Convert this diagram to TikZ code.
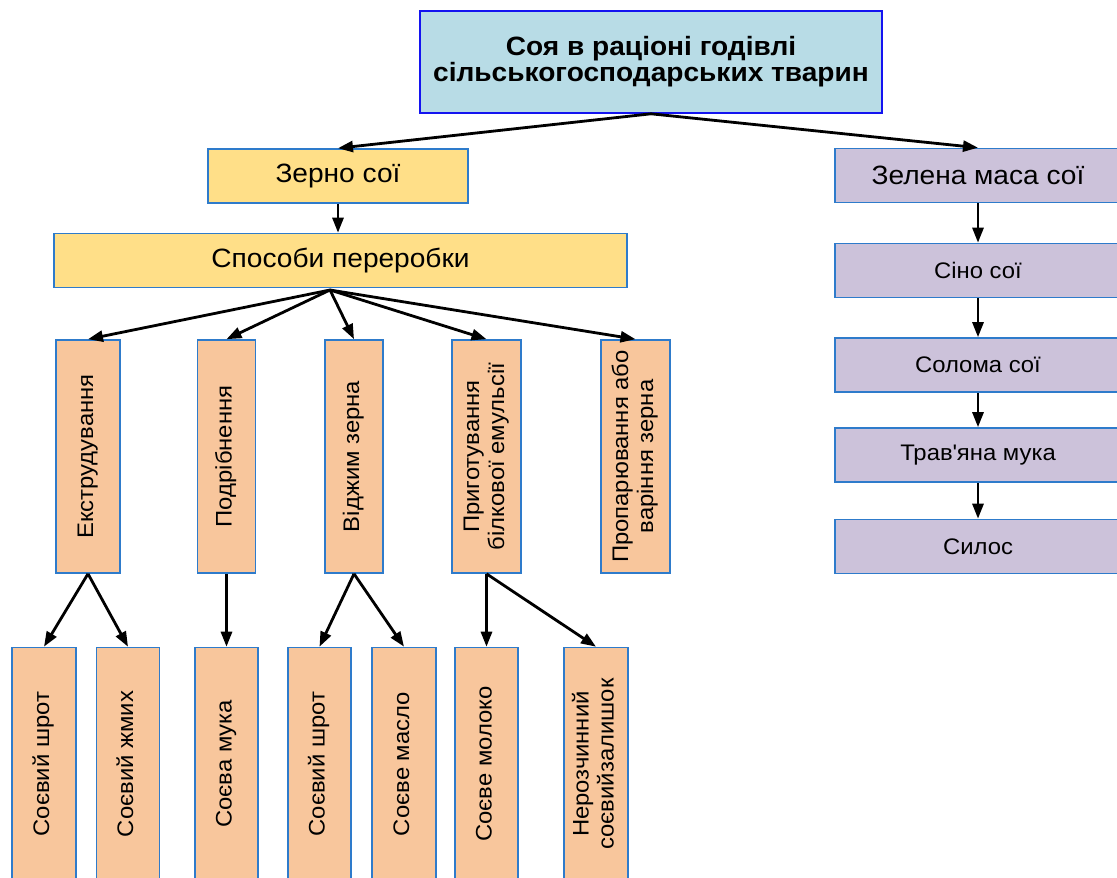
\documentclass[tikz,border=0pt]{standalone}
\usepackage{fontspec}
\setmainfont{Liberation Sans}[FakeStretch=1.06]
\usepackage{xcolor}
\usepackage{graphicx}
\usepackage{tikz}
\usetikzlibrary{arrows.meta}

\definecolor{titlefill}{HTML}{B8DCE6}
\definecolor{titleline}{HTML}{1414F0}
\definecolor{boxline}{HTML}{2E7BCB}
\definecolor{grainfill}{HTML}{FFDF88}
\definecolor{procfill}{HTML}{F8C69C}
\definecolor{massfill}{HTML}{CCC2DA}

\newcommand{\vtext}[1]{\rotatebox{90}{\begin{tabular}{@{}c@{}}#1\end{tabular}}}

\begin{document}
\begin{tikzpicture}[
    x=1pt,y=-1pt,
    >={Triangle[length=15pt,width=11pt]},
    box/.style={
        draw=boxline,
        line width=1.6pt,
        inner sep=0pt,
        align=center
    },
    topbox/.style={box, draw=titleline, fill=titlefill,
        minimum width=462pt, minimum height=102pt,
        font=\fontsize{26.5}{26}\selectfont\bfseries},
    grainbox/.style={box, fill=grainfill, minimum height=54pt,
        font=\fontsize{26.5}{30}\selectfont},
    massbox/.style={box, fill=massfill, minimum width=286pt, minimum height=54pt,
        font=\fontsize{22.5}{25}\selectfont},
    procbox/.style={box, fill=procfill, minimum height=233pt,
        font=\fontsize{22.5}{25}\selectfont},
    arr/.style={->, line width=2.8pt}
]
\useasboundingbox (0,0) rectangle (1117,878);
\clip (0,0) rectangle (1117,878);

\node[topbox] (title) at (651,62) {Соя в раціоні годівлі\\сільськогосподарських тварин};

\node[grainbox, minimum width=260pt] (grain)   at (338,176)   {Зерно сої};
\node[grainbox, minimum width=573pt] (methods) at (340.5,260.5) {Способи переробки};

\node[massbox, font=\fontsize{26.5}{30}\selectfont] (greenmass) at (978,175.5) {Зелена маса сої};
\node[massbox] (hay)       at (978,270.5) {Сіно сої};
\node[massbox] (straw)     at (978,365)   {Солома сої};
\node[massbox] (grassmeal) at (978,455)   {Трав\textquotesingle{}яна мука};
\node[massbox] (silage)    at (978,546.5) {Силос};

\node[procbox, minimum width=64pt] (extrud) at (88,456.5)    {\vtext{Екструдування}};
\node[procbox, minimum width=58pt] (grind)  at (226.5,456.5) {\vtext{Подрібнення}};
\node[procbox, minimum width=58pt] (press)  at (354,456.5)   {\vtext{Віджим зерна}};
\node[procbox, minimum width=69pt] (emuls)  at (486.5,456.5) {\vtext{Приготування\\білкової емульсії}};
\node[procbox, minimum width=69pt] (steam)  at (635.5,456.5) {\vtext{Пропарювання або\\варіння зерна}};

\node[procbox, minimum width=64pt] (meal)    at (44,764)    {\vtext{Соєвий шрот}};
\node[procbox, minimum width=63pt] (cake)    at (128,764)   {\vtext{Соєвий жмих}};
\node[procbox, minimum width=63pt] (flour)   at (226.5,764) {\vtext{Соєва мука}};
\node[procbox, minimum width=63pt] (mealtwo) at (319.5,764) {\vtext{Соєвий шрот}};
\node[procbox, minimum width=64pt] (oil)     at (404,764)   {\vtext{Соєве масло}};
\node[procbox, minimum width=63pt] (milk)    at (486.5,764) {\vtext{Соєве молоко}};
\node[procbox, minimum width=64pt] (residue) at (596,764)   {\vtext{Нерозчинний\\соєвийзалишок}};

\coordinate (fan) at (330,290);

\draw[arr] (title.south) -- (grain.north);
\draw[arr] (title.south) -- (greenmass.north);
\draw[arr] (grain.south -| 338,0) -- (methods.north -| 338,0);

\draw[arr] (fan) -- (extrud.north);
\draw[arr] (fan) -- (grind.north);
\draw[arr] (fan) -- (press.north);
\draw[arr] (fan) -- (emuls.north);
\draw[arr] (fan) -- (steam.north);

\draw[arr] (extrud.south) -- (meal.north);
\draw[arr] (extrud.south) -- (cake.north);
\draw[arr] (grind.south) -- (flour.north);
\draw[arr] (press.south) -- (mealtwo.north);
\draw[arr] (press.south) -- (oil.north);
\draw[arr] (emuls.south) -- (milk.north);
\draw[arr] (emuls.south) -- (residue.north);

\draw[arr] (greenmass.south) -- (hay.north);
\draw[arr] (hay.south) -- (straw.north);
\draw[arr] (straw.south) -- (grassmeal.north);
\draw[arr] (grassmeal.south) -- (silage.north);

\end{tikzpicture}
\end{document}
